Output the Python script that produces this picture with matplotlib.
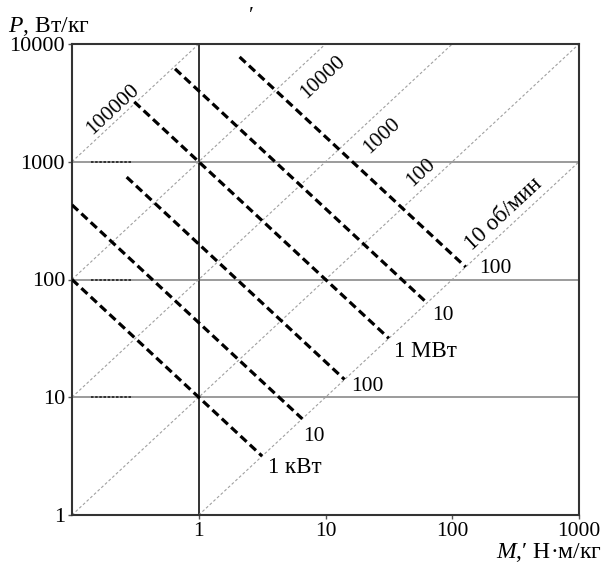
import numpy as np
import matplotlib
matplotlib.use("Agg")
import matplotlib.pyplot as plt

plt.rcParams['font.family'] = ['Liberation Serif', 'DejaVu Serif']
plt.rcParams['mathtext.fontset'] = 'custom'
plt.rcParams['mathtext.rm'] = 'Liberation Serif'
plt.rcParams['mathtext.it'] = 'Liberation Serif:italic'

# ---- data ----
x_ticks = [1, 10, 100, 1000]
x_tick_labels = ["1", "10", "100", "1000"]
y_ticks = [1, 10, 100, 1000, 10000]
y_tick_labels = ["1", "10", "100", "1000", "10000"]

# speed lines: P = k * M
rpm_k = [10000, 1000, 100, 10, 1]
rpm_labels = ["100000", "10000", "1000", "100", "10 об/мин"]
rpm_label_M = [0.238, 7.2, 22, 67, 300]

# power lines: P * M = const
power_labels = ["1 кВт", "10", "100", "1 МВт", "10", "100"]
power_const = [10, 43, 200, 1000, 4000, 16300]
power_M_start = [0.1, 0.1, 0.27, 0.31, 0.65, 2.1]

# ---- layout ----
rpm_label_perp = [10.2, -22.1, -19.8, 13.0, 13.0]   # px, + = up-left
rpm_label_size = [15.5, 15.5, 15.5, 15.5, 16.5]
power_label_off = [(6, -11), (1, -18), (7, -7), (5, -13), (5, -13), (13, -1)]
power_label_size = [16.5, 15.5, 15.5, 16.5, 15.5, 15.5]

fig = plt.figure(figsize=(6.04, 5.65), dpi=100)
ax = fig.add_axes([72/604, 1-515/565, 507/604, 471/565])
ax.set_xscale('log')
ax.set_yscale('log')
xmin, xmax, ymin, ymax = 0.1, 1000, 1, 10000
ax.set_xlim(xmin, xmax)
ax.set_ylim(ymin, ymax)

# grid
for yv in [10, 100, 1000]:
    ax.axhline(yv, color='#8a8a8a', lw=1.2, zorder=1)
ax.axvline(1, color='#333333', lw=1.4, zorder=1)

# decorative dotted stubs near y axis
for yv in y_ticks:
    ax.plot([0.14, 0.29], [yv, yv], color='#222222', lw=1.2, ls=(0, (1.5, 1)), zorder=2)

# speed lines
for k in rpm_k:
    m0 = max(xmin, ymin / k)
    m1 = min(xmax, ymax / k)
    ms = np.array([m0, m1])
    ax.plot(ms, k * ms, color='#a0a0a0', lw=0.8, ls=(0, (2.5, 2)), zorder=2)

# power lines
for c, ms0 in zip(power_const, power_M_start):
    ms = np.array([ms0, np.sqrt(c)])
    ax.plot(ms, c / ms, color='black', lw=2.3, ls=(0, (2.6, 1.4)), zorder=3)

# rotation angle of slope-1 lines on screen
p0 = ax.transData.transform((1, 1))
p1 = ax.transData.transform((10, 10))
ang = np.degrees(np.arctan2(p1[1] - p0[1], p1[0] - p0[0]))
nx, ny = -np.sin(np.radians(ang)), np.cos(np.radians(ang))

for k, lab, m, s, fs in zip(rpm_k, rpm_labels, rpm_label_M, rpm_label_perp, rpm_label_size):
    ax.annotate(lab, xy=(m, k * m), xytext=(s * nx, s * ny), textcoords='offset pixels',
                rotation=ang, rotation_mode='anchor', ha='center', va='center',
                fontsize=fs, zorder=4)

for c, lab, off, fs in zip(power_const, power_labels, power_label_off, power_label_size):
    me = np.sqrt(c)
    ax.annotate(lab, xy=(me, c / me), xytext=off, textcoords='offset pixels',
                ha='left', va='center', fontsize=fs, zorder=4)

# axes styling
for sp in ax.spines.values():
    sp.set_color('#333333')
    sp.set_linewidth(1.5)
ax.set_xticks(x_ticks)
ax.set_xticklabels(x_tick_labels)
ax.set_yticks(y_ticks)
ax.set_yticklabels(y_tick_labels)
ax.minorticks_off()
ax.tick_params(axis='x', labelsize=15.5, length=3, width=1, color='#555555', pad=2)
ax.tick_params(axis='y', labelsize=16, length=3, width=1, color='#555555', pad=2)

fig.text(8/604, 1-26/565, r"$P$, Вт/кг", fontsize=17, ha='left', va='center')
fig.text(602/604, 1-552/565, r"$M$,′ Н·м/кг", fontsize=17, ha='right', va='center')
fig.text(251/604, 1-16/565, "′", fontsize=16, ha='center', va='center')

fig.savefig("out.png", dpi=100)
